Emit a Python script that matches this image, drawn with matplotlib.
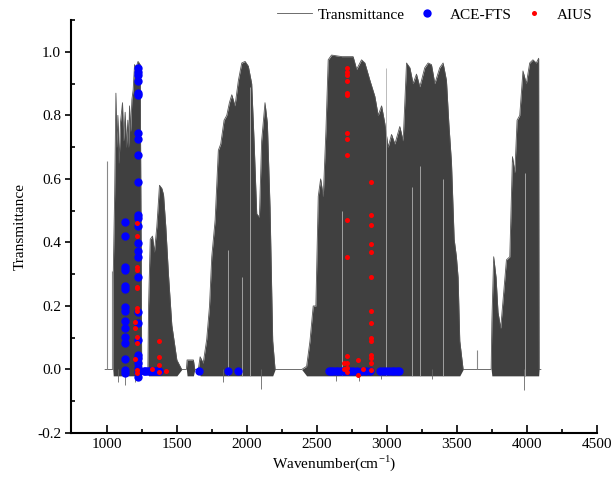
import numpy as np
import matplotlib
matplotlib.use('Agg')
import matplotlib.pyplot as plt
from matplotlib.ticker import MultipleLocator

plt.rcParams['font.family'] = ['Liberation Serif', 'DejaVu Serif']
plt.rcParams['mathtext.fontset'] = 'custom'
plt.rcParams['mathtext.rm'] = 'Liberation Serif'
plt.rcParams['font.size'] = 11

# upper envelope of the transmittance spectrum
env_wn = [990, 1045, 1048, 1058, 1067, 1074, 1081, 1090, 1100, 1114, 1122, 1133, 1142, 1152,
          1158, 1164, 1172, 1181, 1190, 1200, 1210, 1225, 1240, 1247, 1251,
          1295, 1300, 1312, 1328, 1342, 1359, 1378, 1395, 1407, 1423, 1442, 1466, 1502, 1537,
          1570, 1575, 1620, 1630, 1655, 1668, 1690, 1715, 1735, 1751, 1775, 1798, 1815, 1839,
          1858, 1877, 1894, 1917, 1941, 1965, 1989, 2012, 2036, 2053, 2072, 2091, 2107, 2131,
          2148, 2167, 2186, 2203,
          2393, 2428, 2452, 2475, 2494, 2511, 2528, 2547, 2566, 2582, 2606, 2680, 2760, 2785,
          2820, 2844, 2880, 2915, 2939, 2963, 2986, 3010, 3034, 3058, 3093, 3117, 3141, 3165,
          3188, 3212, 3236, 3271, 3295, 3319, 3343, 3378, 3402, 3426, 3443, 3462, 3481, 3497,
          3509, 3521, 3545,
          3745, 3750, 3763, 3780, 3794, 3813, 3830, 3854, 3878, 3897, 3914, 3930, 3949, 3972,
          3996, 4020, 4043, 4067, 4084, 4087, 4100]
env_top = [0.0, 0.0, 0.30, 0.55, 0.87, 0.70, 0.80, 0.65, 0.78, 0.84, 0.72, 0.81, 0.70, 0.785,
           0.70, 0.83, 0.75, 0.85, 0.88, 0.96, 0.95, 0.97, 0.96, 0.40, 0.0,
           0.0, 0.20, 0.41, 0.42, 0.37, 0.45, 0.58, 0.57, 0.55, 0.45, 0.30, 0.14, 0.03, 0.0,
           0.0, 0.03, 0.03, 0.0, 0.0, 0.04, 0.02, 0.095, 0.20, 0.355, 0.47, 0.69, 0.71, 0.785,
           0.80, 0.84, 0.865, 0.83, 0.91, 0.965, 0.97, 0.955, 0.90, 0.72, 0.49, 0.48, 0.72, 0.84,
           0.775, 0.51, 0.09, 0.0,
           0.0, 0.01, 0.09, 0.20, 0.20, 0.545, 0.60, 0.545, 0.755, 0.975, 0.99, 0.985, 0.985, 0.945,
           0.975, 0.965, 0.91, 0.86, 0.80, 0.83, 0.775, 0.70, 0.74, 0.71, 0.765, 0.72, 0.965, 0.95,
           0.90, 0.93, 0.89, 0.95, 0.965, 0.96, 0.90, 0.95, 0.965, 0.91, 0.775, 0.65, 0.41, 0.355,
           0.29, 0.09, 0.0,
           0.0, 0.15, 0.355, 0.29, 0.18, 0.13, 0.22, 0.345, 0.355, 0.67, 0.62, 0.785, 0.80, 0.94,
           0.90, 0.965, 0.975, 0.965, 0.98, 0.0, 0.0]

# isolated lines above and below the baseline
spike_wn = [1000, 1038, 3647]
spike_top = [0.655, 0.31, 0.06]
dip_wn = [1080, 1130, 1200, 1830, 2105, 2640, 2800, 2960, 3321, 3977]
dip_low = [-0.04, -0.05, -0.04, -0.04, -0.06, -0.035, -0.035, -0.03, -0.03, -0.064]

# lighter gaps inside the bands
gap_wn = [1870, 1965, 2024, 2678, 2998, 3177, 3236, 3402, 3990]
gap_top = [0.376, 0.29, 0.89, 0.50, 0.95, 0.576, 0.64, 0.60, 0.62]

# ACE-FTS points
ace_wn = ([1133] * 15 + [1228] * 26
          + [1264, 1278, 1292, 1306, 1320, 1334, 1348, 1362, 1376, 1663, 1865, 1941]
          + [2585, 2600, 2615, 2635, 2650, 2670, 2690, 2710, 2735, 2760, 2790, 2820, 2850, 2880,
             2955, 2975, 2995, 3015, 3035, 3055, 3075, 3090])
ace_t = ([0.464, 0.421, 0.324, 0.313, 0.263, 0.253, 0.196, 0.185, 0.154, 0.130, 0.103, 0.082,
          0.032, -0.002, -0.012]
         + [0.949, 0.938, 0.928, 0.907, 0.872, 0.865, 0.746, 0.726, 0.675, 0.589, 0.487, 0.476,
            0.452, 0.397, 0.374, 0.355, 0.292, 0.182, 0.146, 0.093, 0.046, 0.035, 0.019, 0.004,
            -0.007, -0.023]
         + [-0.004] * 12
         + [-0.004] * 22)

# AIUS points
aius_wn = ([1200] * 3 + [1221] * 12 + [1376] * 4 + [1328, 1423]
           + [2713] * 15 + [2887] * 14 + [2697, 2697, 2797, 2797, 2832])
aius_t = ([0.151, 0.130, 0.032]
          + [0.462, 0.420, 0.324, 0.313, 0.261, 0.256, 0.193, 0.185, 0.103, 0.082, -0.002, -0.011]
          + [0.091, 0.038, 0.014, -0.007]
          + [0.0, -0.005]
          + [0.949, 0.938, 0.928, 0.907, 0.870, 0.863, 0.746, 0.726, 0.675, 0.472, 0.355, 0.042,
             0.019, 0.004, -0.007]
          + [0.589, 0.485, 0.455, 0.395, 0.371, 0.292, 0.184, 0.146, 0.098, 0.090, 0.046, 0.035,
             0.019, -0.002]
          + [0.02, 0.0, 0.03, -0.017, 0.0])

fig = plt.figure(figsize=(6.11, 4.79), dpi=100)
ax = fig.add_axes([0.117, 0.096, 0.86, 0.862])

env_wn = np.array(env_wn)
env_top = np.array(env_top)
env_bot = np.where(env_top > 0, -0.02, 0.0)
ax.fill_between(env_wn, env_bot, env_top, color='#404040', lw=0, zorder=1)
ax.plot(env_wn, env_top, color='#555555', lw=0.6, zorder=1, label='Transmittance')
ax.vlines(spike_wn, 0, spike_top, color='#888888', lw=0.8, zorder=1)
ax.vlines(dip_wn, dip_low, 0, color='#666666', lw=0.6, zorder=1)
ax.vlines(gap_wn, -0.02, gap_top, color='#b0b0b0', lw=0.6, zorder=1.5)

ax.plot(ace_wn, ace_t, 'o', color='#0000ff', ms=6, mec='none', zorder=3, label='ACE-FTS')
ax.plot(aius_wn, aius_t, 'o', color='#ff0000', ms=3.6, mec='none', zorder=4, label='AIUS')

ax.set_xlim(750, 4500)
ax.set_ylim(-0.2, 1.1)
ax.xaxis.set_major_locator(MultipleLocator(500))
ax.xaxis.set_minor_locator(MultipleLocator(250))
ax.set_yticks([-0.2, 0.0, 0.2, 0.4, 0.6, 0.8, 1.0])
ax.yaxis.set_minor_locator(MultipleLocator(0.1))
ax.yaxis.set_major_formatter(plt.FuncFormatter(lambda v, p: '%.1f' % v))
ax.tick_params(which='both', width=1.2)
ax.tick_params(axis='x', which='major', direction='in', length=6)
ax.tick_params(axis='x', which='minor', direction='in', length=3)
ax.tick_params(axis='y', which='major', direction='out', length=4)
ax.tick_params(axis='y', which='minor', direction='in', length=3)
ax.spines['top'].set_visible(False)
ax.spines['right'].set_visible(False)
ax.spines['left'].set_linewidth(1.5)
ax.spines['bottom'].set_linewidth(1.5)

ax.set_xlabel('Wavenumber(cm$^{-1}$)', labelpad=2)
ax.set_ylabel('Transmittance', labelpad=7)

fig.legend(loc='upper right', bbox_to_anchor=(0.992, 1.012), ncol=3, frameon=False,
           handlelength=2.3, columnspacing=0.3, handletextpad=0.35, fontsize=11)

plt.savefig('out.png', dpi=100)
